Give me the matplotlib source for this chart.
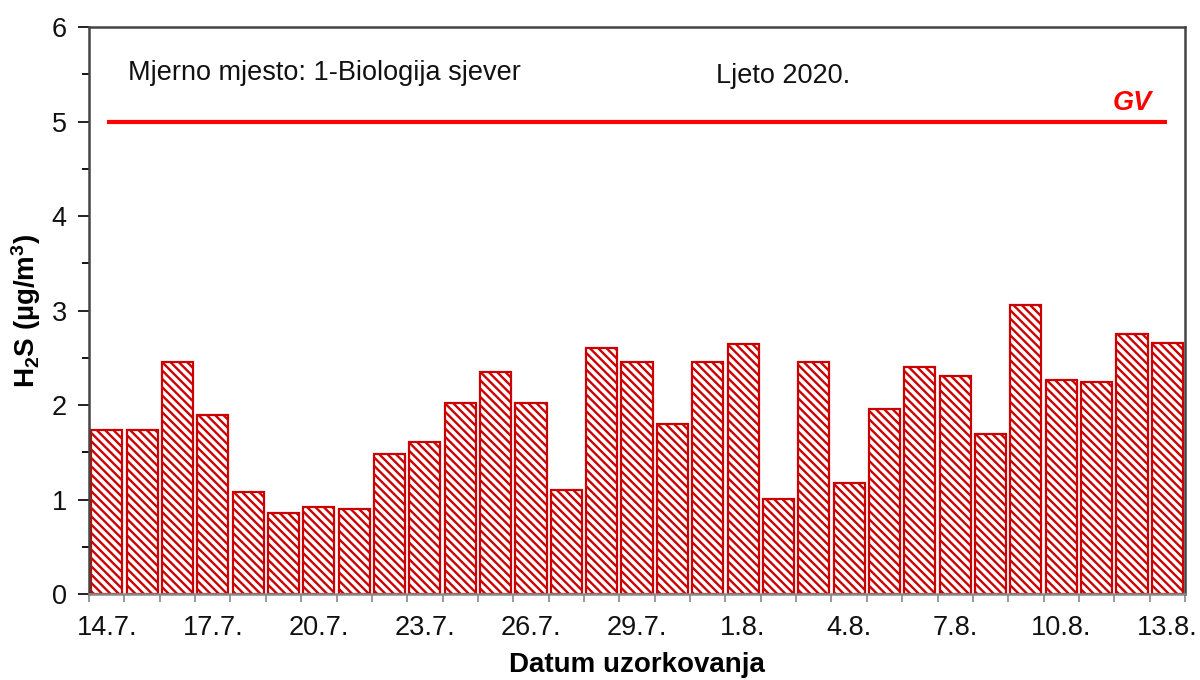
import matplotlib
matplotlib.use("Agg")
import matplotlib.pyplot as plt
from matplotlib.ticker import FixedLocator, MultipleLocator
import numpy as np

plt.rcParams['font.family'] = ['Liberation Sans', 'DejaVu Sans']
plt.rcParams['mathtext.default'] = 'regular'
plt.rcParams['hatch.linewidth'] = 1.7
plt.rcParams['hatch.color'] = '#CC0000'

dates = ['14.7.', '15.7.', '16.7.', '17.7.', '18.7.', '19.7.', '20.7.', '21.7.', '22.7.', '23.7.',
         '24.7.', '25.7.', '26.7.', '27.7.', '28.7.', '29.7.', '30.7.', '31.7.', '1.8.', '2.8.',
         '3.8.', '4.8.', '5.8.', '6.8.', '7.8.', '8.8.', '9.8.', '10.8.', '11.8.', '12.8.', '13.8.']
h2s = [1.74, 1.74, 2.46, 1.89, 1.08, 0.86, 0.92, 0.90, 1.48, 1.61,
       2.02, 2.35, 2.02, 1.10, 2.60, 2.46, 1.80, 2.46, 2.65, 1.01,
       2.46, 1.18, 1.96, 2.40, 2.31, 1.69, 3.06, 2.26, 2.24, 2.75, 2.66]
gv_value = 5
label_step = 3

fig = plt.figure(figsize=(12, 6.8), dpi=100)
ax = fig.add_axes([0.0742, 0.1265, 0.9133, 0.8335])

x = np.arange(len(dates))
ax.bar(x, h2s, width=0.88, color='white', edgecolor='#CC0000', linewidth=1.6, hatch='\\\\\\\\')

ax.hlines(gv_value, 0, len(dates) - 1, color='#FF0000', linewidth=3)
ax.text(len(dates) - 2.0, gv_value + 0.06, 'GV', color='#FF0000', fontsize=19.5,
        fontweight='bold', fontstyle='italic', ha='center', va='bottom')

ax.text(0.6, 5.51, 'Mjerno mjesto: 1-Biologija sjever', fontsize=19.5, ha='left', va='center', color='#111111')
ax.text(17.24, 5.48, 'Ljeto 2020.', fontsize=19.5, ha='left', va='center', color='#111111')

ax.set_xlim(-0.5, len(dates) - 0.5)
ax.set_ylim(0, 6)

ax.xaxis.set_major_locator(FixedLocator(x[::label_step]))
ax.set_xticklabels(dates[::label_step])
ax.xaxis.set_minor_locator(FixedLocator(np.arange(len(dates) + 1) - 0.5))
ax.tick_params(axis='x', which='major', length=0, pad=15, labelsize=19.5, colors='#111111')
ax.tick_params(axis='x', which='minor', length=6, width=1.2, color='#888888')

ax.yaxis.set_major_locator(MultipleLocator(1))
ax.yaxis.set_minor_locator(MultipleLocator(0.5))
ax.tick_params(axis='y', which='major', length=8, width=1.3, labelsize=19.5, pad=8, colors='#111111')
ax.tick_params(axis='y', which='minor', length=5, width=1.3)

for side in ['left', 'right', 'top', 'bottom']:
    ax.spines[side].set_color('#444444')
    ax.spines[side].set_linewidth(1.8)
ax.spines['bottom'].set_color('#888888')

ax.set_xlabel('Datum uzorkovanja', fontsize=20, fontweight='bold', labelpad=8)
ax.set_ylabel('H$_2$S (µg/m$^3$)', fontsize=20, fontweight='bold', labelpad=6)

fig.savefig('out.png', dpi=100, facecolor='white')
